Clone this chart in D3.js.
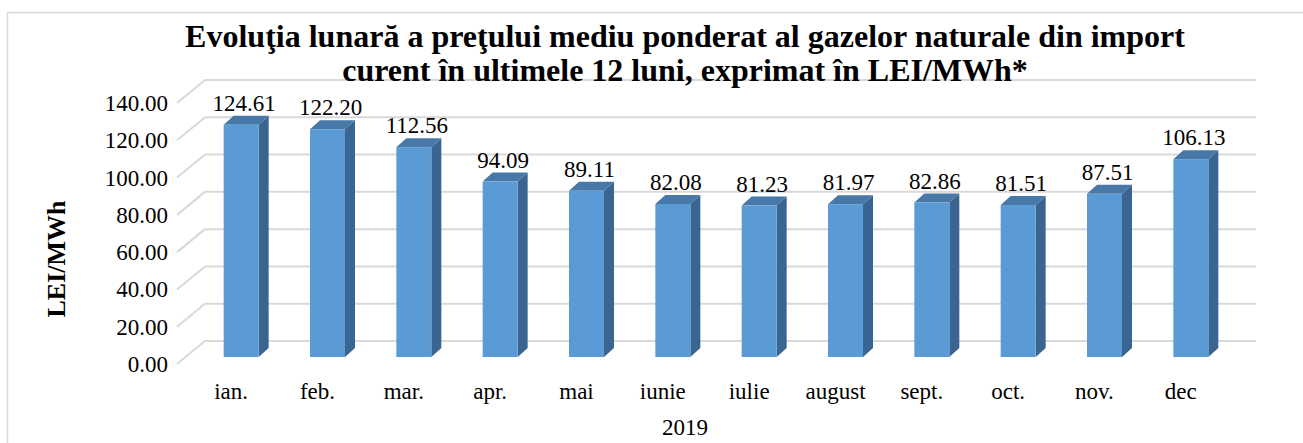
<!DOCTYPE html>
<html>
<head>
<meta charset="utf-8">
<script src="https://cdn.jsdelivr.net/npm/d3@7"></script>
<style>
  body { margin: 0; background: #fff; }
  svg text { font-family: "Liberation Serif", "Times New Roman", serif; fill: #000; }
</style>
</head>
<body>
<div id="chart"></div>
<script>
/* data */
var months = ["ian.", "feb.", "mar.", "apr.", "mai", "iunie", "iulie", "august", "sept.", "oct.", "nov.", "dec"];
var prices = [124.61, 122.20, 112.56, 94.09, 89.11, 82.08, 81.23, 81.97, 82.86, 81.51, 87.51, 106.13];
var yTicks = [0, 20, 40, 60, 80, 100, 120, 140];
var titleLines = ["Evoluţia lunară a preţului mediu ponderat al gazelor naturale din import",
                  "curent în ultimele 12 luni, exprimat în LEI/MWh*"];
var yTitle = "LEI/MWh";
var xTitle = "2019";

var width = 1303, height = 443;
var serif = "'Liberation Serif', 'Times New Roman', serif";

// 3d layout: back wall, floor front edge, bar front plane
var backBase = 341, frontBase = 364, barBase = 357;
var wallLeft = 205, wallRight = 1256, floorLeft = 177;
var depthX = 10, depthY = -9, barWidth = 35;

var svg = d3.select("#chart").append("svg")
  .attr("width", width)
  .attr("height", height);

// outer frame
svg.append("rect")
  .attr("x", 7.5).attr("y", 12.5)
  .attr("width", 1310).attr("height", 460)
  .attr("fill", "none")
  .attr("stroke", "#d9d9d9")
  .attr("stroke-width", 1.5);

var h = d3.scaleLinear().domain([0, 140]).range([0, 261]);
var x = d3.scalePoint().domain(months).range([198, 1234]).padding(0.5);

// gridlines on back wall + diagonals on the side
var grid = svg.append("g");
yTicks.forEach(function (t) {
  grid.append("line")
    .attr("x1", wallLeft).attr("x2", wallRight)
    .attr("y1", backBase - h(t)).attr("y2", backBase - h(t))
    .attr("stroke", "#d9d9d9").attr("stroke-width", 2);
  grid.append("line")
    .attr("x1", floorLeft).attr("x2", wallLeft)
    .attr("y1", frontBase - h(t)).attr("y2", backBase - h(t))
    .attr("stroke", "#d9d9d9").attr("stroke-width", 2);
});

// y tick labels
svg.append("g").selectAll("text")
  .data(yTicks)
  .enter().append("text")
  .attr("x", 168)
  .attr("y", d => frontBase - h(d))
  .attr("dy", "0.35em")
  .attr("text-anchor", "end")
  .attr("font-family", serif)
  .style("font-size", "23px")
  .text(d => d3.format(".2f")(d));

// bars
var bars = svg.append("g").selectAll("g")
  .data(months.map((m, i) => ({ m: m, v: prices[i] })))
  .enter().append("g");

bars.append("path") // side face
  .attr("d", function (d) {
    var x1 = x(d.m) + barWidth / 2, top = barBase - h(d.v);
    return "M" + x1 + "," + barBase + "L" + (x1 + depthX) + "," + (barBase + depthY) +
      "L" + (x1 + depthX) + "," + (top + depthY) + "L" + x1 + "," + top + "Z";
  })
  .attr("fill", "#3a6590");

bars.append("path") // top face
  .attr("d", function (d) {
    var x0 = x(d.m) - barWidth / 2, x1 = x(d.m) + barWidth / 2, top = barBase - h(d.v);
    return "M" + x0 + "," + top + "L" + x1 + "," + top + "L" + (x1 + depthX) + "," + (top + depthY) +
      "L" + (x0 + depthX) + "," + (top + depthY) + "Z";
  })
  .attr("fill", "#4778a8");

bars.append("rect") // front face
  .attr("x", d => x(d.m) - barWidth / 2)
  .attr("y", d => barBase - h(d.v))
  .attr("width", barWidth)
  .attr("height", d => h(d.v))
  .attr("fill", "#5b9bd5");

// value labels
bars.append("text")
  .attr("x", d => x(d.m) + 3)
  .attr("y", d => barBase - h(d.v) + depthY - 5)
  .attr("text-anchor", "middle")
  .attr("font-family", serif)
  .style("font-size", "23px")
  .text(d => d3.format(".2f")(d.v));

// category labels
svg.append("g").selectAll("text")
  .data(months)
  .enter().append("text")
  .attr("x", d => x(d) - 10)
  .attr("y", 399)
  .attr("text-anchor", "middle")
  .attr("font-family", serif)
  .style("font-size", "23px")
  .text(d => d);

// axis titles
svg.append("text")
  .attr("x", 685).attr("y", 435)
  .attr("text-anchor", "middle")
  .attr("font-family", serif)
  .style("font-size", "23px")
  .text(xTitle);

svg.append("text")
  .attr("transform", "translate(65,259) rotate(-90)")
  .attr("text-anchor", "middle")
  .attr("font-family", serif)
  .style("font-size", "26px")
  .style("font-weight", "bold")
  .text(yTitle);

// chart title
svg.append("g").selectAll("text")
  .data(titleLines)
  .enter().append("text")
  .attr("x", 685)
  .attr("y", (d, i) => 47 + i * 34)
  .attr("text-anchor", "middle")
  .attr("font-family", serif)
  .style("font-size", "32px")
  .style("font-weight", "bold")
  .text(d => d);
</script>
</body>
</html>
